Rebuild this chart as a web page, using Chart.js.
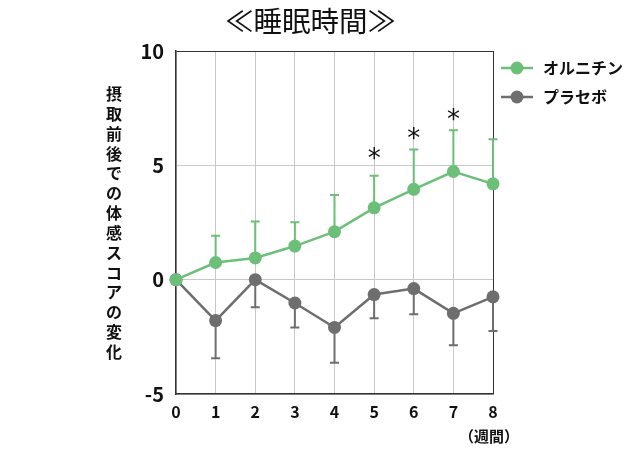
<!DOCTYPE html>
<html><head><meta charset="utf-8">
<script src="https://cdn.jsdelivr.net/npm/chart.js@4"></script>
<style>
html,body{margin:0;padding:0;background:#fff;}
#wrap{position:relative;width:640px;height:450px;font-family:"Noto Sans CJK JP",sans-serif;}
#title{position:absolute;left:225px;top:-1px;font-size:28.5px;line-height:42px;color:#111;white-space:nowrap;}
#ytitle{position:absolute;left:104px;top:84px;width:20px;font-size:16px;font-weight:bold;color:#111;}
#ytitle span{display:block;height:19.85px;line-height:19.85px;text-align:center;}
#unit{position:absolute;left:459px;top:425px;font-size:15px;font-weight:bold;color:#111;}
canvas{position:absolute;left:0;top:0;}
</style></head>
<body><div id="wrap">
<canvas id="c" width="640" height="450"></canvas>
<div id="title">≪睡眠時間≫</div>
<div id="ytitle"></div>
<div id="unit">（週間）</div>
</div>
<script>
const weeks = [0,1,2,3,4,5,6,7,8];
const ornithine = [0,0.75,0.95,1.47,2.10,3.14,3.95,4.73,4.19];
const ornithineErr = [0,1.17,1.59,1.04,1.60,1.40,1.74,1.80,1.95];
const placebo = [0,-1.79,0,-1.02,-2.09,-0.65,-0.39,-1.47,-0.75];
const placeboErr = [0,1.65,1.21,1.07,1.54,1.04,1.12,1.40,1.50];
const significantWeeks = [5,6,7];
const significantLevel = [5.45, 6.3, 7.15];
const yTicks = [-5,0,5,10];
const seriesNames = ['オルニチン','プラセボ'];
const yTitle = '摂取前後での体感スコアの変化';
const GREEN = '#6cbf78', GRAY = '#6e6e6e';
const FONT = '"Noto Sans CJK JP", sans-serif';

const yt = document.getElementById('ytitle');
Array.from(yTitle).forEach(ch=>{ const s=document.createElement('span'); s.textContent=ch; yt.appendChild(s); });

const errorBars = {
  id:'errorBars',
  beforeDatasetsDraw(chart){
    const {ctx, scales:{x,y}} = chart;
    ctx.save();
    ctx.lineWidth = 2;
    const sets = [[ornithine, ornithineErr, 1, GREEN],[placebo, placeboErr, -1, GRAY]];
    sets.forEach(([vals, errs, dir, col])=>{
      ctx.strokeStyle = col;
      weeks.forEach((w,i)=>{
        if(!errs[i]) return;
        const px = x.getPixelForValue(w);
        const y0 = y.getPixelForValue(vals[i]);
        const y1 = y.getPixelForValue(vals[i] + dir*errs[i]);
        ctx.beginPath();
        ctx.moveTo(px,y0); ctx.lineTo(px,y1);
        ctx.moveTo(px-4.5,y1); ctx.lineTo(px+4.5,y1);
        ctx.stroke();
      });
    });
    ctx.fillStyle = '#111';
    ctx.font = '26px "DejaVu Sans", sans-serif';
    ctx.textAlign = 'center';
    ctx.textBaseline = 'middle';
    significantWeeks.forEach((w,k)=>{
      const px = x.getPixelForValue(w);
      const py = y.getPixelForValue(significantLevel[k]);
      ctx.fillText('*', px, py + 5);
    });
    ctx.restore();
  },
  afterDraw(chart){
    const {ctx, chartArea:a} = chart;
    ctx.save();
    const items = [[seriesNames[0], GREEN],[seriesNames[1], GRAY]];
    items.forEach(([name,col],k)=>{
      const cy = a.top + 17 + k*29;
      ctx.strokeStyle = col; ctx.lineWidth = 2.5;
      ctx.beginPath(); ctx.moveTo(a.right+8, cy); ctx.lineTo(a.right+40, cy); ctx.stroke();
      ctx.fillStyle = col;
      ctx.beginPath(); ctx.arc(a.right+24, cy, 6.5, 0, Math.PI*2); ctx.fill();
      ctx.fillStyle = '#111';
      ctx.font = 'bold 16px ' + FONT;
      ctx.textBaseline = 'middle';
      ctx.textAlign = 'left';
      ctx.fillText(name, a.right+50, cy);
    });
    ctx.restore();
  }
};

new Chart(document.getElementById('c'), {
  type:'line',
  data:{
    datasets:[
      {label:seriesNames[0], data:weeks.map((w,i)=>({x:w,y:ornithine[i]})), borderColor:GREEN, backgroundColor:GREEN, borderWidth:2.5, pointRadius:6.5, pointHoverRadius:6.5, pointBorderWidth:0, tension:0, clip:false},
      {label:seriesNames[1], data:weeks.map((w,i)=>({x:w,y:placebo[i]})), borderColor:GRAY, backgroundColor:GRAY, borderWidth:2.5, pointRadius:6.5, pointHoverRadius:6.5, pointBorderWidth:0, tension:0, clip:false}
    ]
  },
  options:{
    responsive:false, animation:false,
    layout:{padding:{top:51, right:147, left:0, bottom:0}},
    plugins:{legend:{display:false}, title:{display:false}, tooltip:{enabled:false}},
    scales:{
      x:{type:'linear', min:0, max:8,
        afterFit(s){ s.height = 56; },
        ticks:{stepSize:1, padding:8, color:'#111', font:{family:FONT, size:16, weight:'bold'}},
        grid:{color:c=>c.tick && c.tick.value===8 ? '#333' : '#c8c8c8', lineWidth:1, drawTicks:false},
        border:{color:'#333', width:1.5}
      },
      y:{min:-5, max:10,
        afterFit(s){ s.width = 176; },
        afterBuildTicks(s){ s.ticks = yTicks.map(v=>({value:v})); },
        ticks:{padding:12, color:'#111', font:{family:FONT, size:20, weight:'bold'}},
        grid:{color:c=>c.tick && c.tick.value===10 ? '#333' : '#c8c8c8', lineWidth:1, drawTicks:false},
        border:{color:'#333', width:1.5}
      }
    }
  },
  plugins:[errorBars]
});
</script>
</body></html>
